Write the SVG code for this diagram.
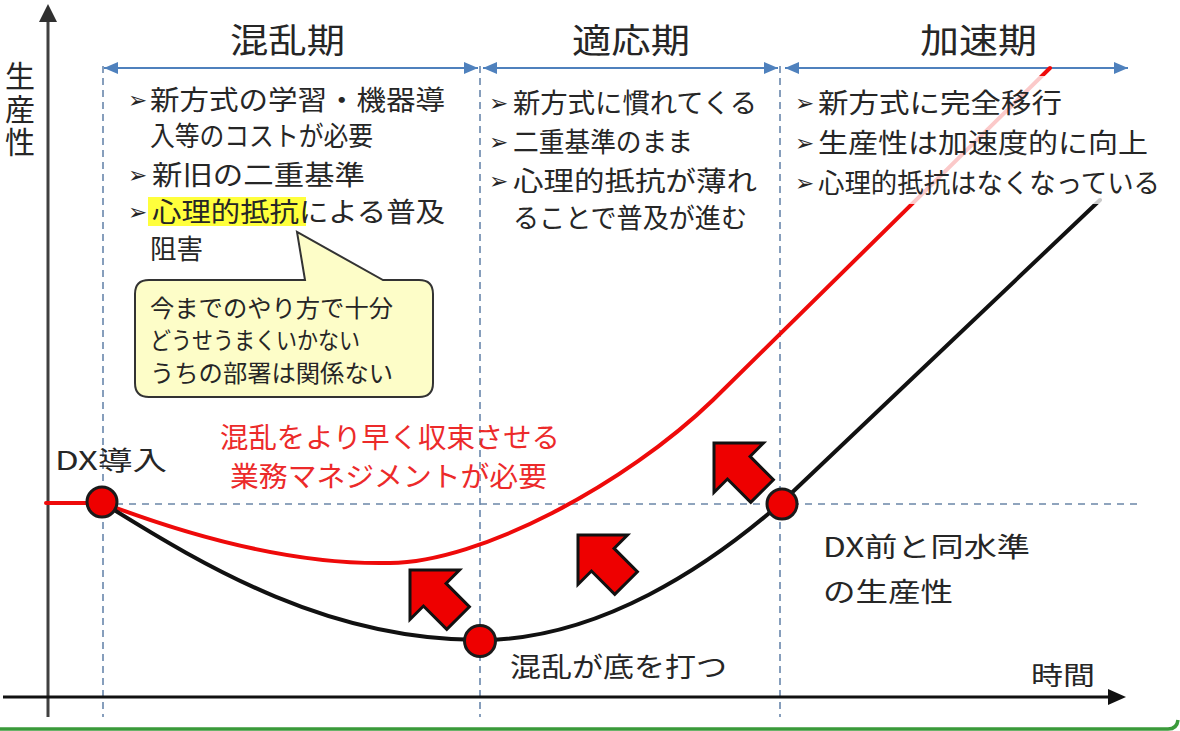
<svg xmlns="http://www.w3.org/2000/svg" xmlns:xlink="http://www.w3.org/1999/xlink" width="1180" height="731" viewBox="0 0 1180 731">
<style>
.t{font-family:"Noto Sans CJK JP","Noto Sans CJK SC",sans-serif;fill:#262626;}
.b{font-family:"DejaVu Sans",sans-serif;font-size:23px;fill:#262626;}
.f27{font-size:27px;}
.f24{font-size:24px;}
.title{font-size:34px;}
.red{fill:#ec2a2a;font-size:28px;}
.vd{stroke:#5f7fa6;stroke-width:1.5;stroke-dasharray:7 5;fill:none;}
.hd{stroke:#6b86a8;stroke-width:1.5;stroke-dasharray:7 6;fill:none;}
.per{stroke:#4f81bd;stroke-width:2;marker-start:url(#bh);marker-end:url(#bh);}
.dot{fill:#ee0000;stroke:#1a1a1a;stroke-width:3;}
.blk{fill:#ee0000;stroke:#111;stroke-width:3;stroke-linejoin:miter;}
</style>
<defs>
<marker id="bh" viewBox="0 0 14 12" refX="14" refY="6" markerWidth="14" markerHeight="12" markerUnits="userSpaceOnUse" orient="auto-start-reverse"><path d="M0,0 L14,6 L0,12 z" fill="#4f81bd"/></marker>
<polygon id="ua" points="0,0 -35,-35 -35,-16 -68,-16 -68,16 -35,16 -35,35"/>
</defs>
<rect width="1180" height="731" fill="#ffffff"/>
<!-- frame -->
<path d="M0,729 H1168 Q1177,729 1178,720" fill="none" stroke="#3a9a3a" stroke-width="3.5"/>

<!-- grid -->
<g id="grid">
<line class="vd" x1="103" y1="66" x2="103" y2="717"/>
<line class="vd" x1="480" y1="66" x2="480" y2="717"/>
<line class="vd" x1="780" y1="66" x2="780" y2="717"/>
<line class="hd" x1="103" y1="504" x2="1143" y2="504"/>
</g>

<!-- axes -->
<g id="axes">
<line x1="48" y1="717" x2="48" y2="20" stroke="#404040" stroke-width="3"/>
<polygon points="48,4 39,22 57,22" fill="#303030"/>
<line x1="3" y1="697" x2="1110" y2="697" stroke="#111" stroke-width="3"/>
<polygon points="1126,697 1108,689 1108,705" fill="#111"/>
<text class="t" font-size="30" x="20" y="61" writing-mode="vertical-rl" letter-spacing="3">生産性</text>
<text class="t" font-size="26" x="1031" y="685" textLength="64" lengthAdjust="spacingAndGlyphs">時間</text>
</g>

<!-- period arrows -->
<g id="periods">
<line class="per" x1="104" y1="68" x2="478" y2="68"/>
<line class="per" x1="483" y1="68" x2="778" y2="68"/>
<line class="per" x1="785" y1="68" x2="1128" y2="68"/>
<text class="t title" x="230" y="53" textLength="115" lengthAdjust="spacingAndGlyphs">混乱期</text>
<text class="t title" x="572" y="53" textLength="118" lengthAdjust="spacingAndGlyphs">適応期</text>
<text class="t title" x="920" y="53" textLength="117" lengthAdjust="spacingAndGlyphs">加速期</text>
</g>

<!-- connectors: productivity curves -->
<g id="connectors" fill="none" stroke-linecap="round">
<path d="M46,503 L103,503 C200,540 300,565 390,563 C480,562 625,485 713,400 L1050,68" stroke="#ee0a0a" stroke-width="4"/>
<path d="M103,503 C210,570 330,640 480,640 C600,640 710,565 781,503 L1100,200" stroke="#111" stroke-width="4"/>
</g>
<!-- translucent text box background over curves -->
<rect x="790" y="76" width="385" height="128" fill="#ffffff" fill-opacity="0.78"/>

<!-- column 1 text -->
<g id="col1">
<rect x="148" y="197" width="158" height="29" fill="#ffff3c"/>
<text class="b" x="128" y="108">➢</text>
<text class="t f27" x="150" y="110" textLength="295" lengthAdjust="spacingAndGlyphs">新方式の学習・機器導</text>
<text class="t f27" x="150" y="146" textLength="223" lengthAdjust="spacingAndGlyphs">入等のコストが必要</text>
<text class="b" x="128" y="183">➢</text>
<text class="t f27" x="152" y="185" textLength="213" lengthAdjust="spacingAndGlyphs">新旧の二重基準</text>
<text class="b" x="128" y="220">➢</text>
<text class="t f27" x="152" y="222" textLength="293" lengthAdjust="spacingAndGlyphs">心理的抵抗による普及</text>
<text class="t f27" x="150" y="259" textLength="53" lengthAdjust="spacingAndGlyphs">阻害</text>
</g>

<!-- column 2 text -->
<g id="col2">
<text class="b" x="489" y="111">➢</text>
<text class="t f27" x="513" y="113" textLength="244" lengthAdjust="spacingAndGlyphs">新方式に慣れてくる</text>
<text class="b" x="489" y="150">➢</text>
<text class="t f27" x="513" y="152" textLength="180" lengthAdjust="spacingAndGlyphs">二重基準のまま</text>
<text class="b" x="489" y="189">➢</text>
<text class="t f27" x="513" y="191" textLength="244" lengthAdjust="spacingAndGlyphs">心理的抵抗が薄れ</text>
<text class="t f27" x="513" y="228" textLength="234" lengthAdjust="spacingAndGlyphs">ることで普及が進む</text>
</g>

<!-- column 3 text -->
<g id="col3">
<text class="b" x="795" y="111">➢</text>
<text class="t f27" x="818" y="113" textLength="244" lengthAdjust="spacingAndGlyphs">新方式に完全移行</text>
<text class="b" x="795" y="151">➢</text>
<text class="t f27" x="818" y="153" textLength="330" lengthAdjust="spacingAndGlyphs">生産性は加速度的に向上</text>
<text class="b" x="795" y="191">➢</text>
<text class="t f27" x="818" y="193" textLength="342" lengthAdjust="spacingAndGlyphs">心理的抵抗はなくなっている</text>
</g>

<!-- speech bubble -->
<g id="bubble">
<path d="M149,280 H305 L297,232 L383,280 H419 Q433,280 433,294 V383 Q433,397 419,397 H149 Q135,397 135,383 V294 Q135,280 149,280 Z" fill="#fdfdc8" stroke="#333" stroke-width="2"/>
<text class="t f24" x="150" y="317" textLength="243" lengthAdjust="spacingAndGlyphs">今までのやり方で十分</text>
<text class="t f24" x="150" y="349" textLength="210" lengthAdjust="spacingAndGlyphs">どうせうまくいかない</text>
<text class="t f24" x="150" y="382" textLength="243" lengthAdjust="spacingAndGlyphs">うちの部署は関係ない</text>
</g>

<!-- red message -->
<g id="message">
<text class="t red" x="220" y="448" textLength="340" lengthAdjust="spacingAndGlyphs">混乱をより早く収束させる</text>
<text class="t red" x="230" y="487" textLength="317" lengthAdjust="spacingAndGlyphs">業務マネジメントが必要</text>
</g>

<!-- up-left block arrows -->
<g id="push-arrows">
<use xlink:href="#ua" class="blk" transform="translate(410,570) rotate(225)"/>
<use xlink:href="#ua" class="blk" transform="translate(578,535) rotate(225)"/>
<use xlink:href="#ua" class="blk" transform="translate(714,443) rotate(225)"/>
</g>

<!-- points -->
<g id="pt-dx">
<circle class="dot" cx="102" cy="502" r="15"/>
<text class="t" font-size="26" x="55" y="470" textLength="112" lengthAdjust="spacingAndGlyphs">DX導入</text>
</g>
<g id="pt-bottom">
<circle class="dot" cx="480" cy="641" r="15.5"/>
<text class="t f27" x="510" y="677" textLength="217" lengthAdjust="spacingAndGlyphs">混乱が底を打つ</text>
</g>
<g id="pt-recover">
<circle class="dot" cx="782" cy="504" r="15"/>
<text class="t f27" x="823" y="557" textLength="207" lengthAdjust="spacingAndGlyphs">DX前と同水準</text>
<text class="t f27" x="823" y="602" textLength="130" lengthAdjust="spacingAndGlyphs">の生産性</text>
</g>
</svg>
